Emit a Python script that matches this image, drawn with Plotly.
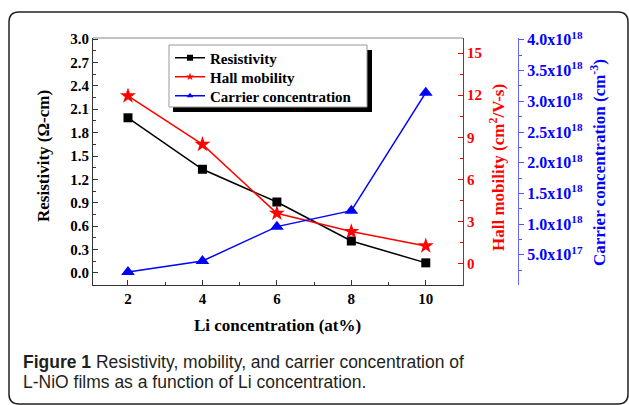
import plotly.graph_objects as go

# ---- data ----
li_conc = [2, 4, 6, 8, 10]
resistivity = [1.99, 1.33, 0.91, 0.41, 0.13]
hall_mobility = [11.95, 8.5, 3.6, 2.3, 1.28]
carrier_conc = [2.2e17, 4.0e17, 9.6e17, 1.22e18, 3.14e18]
carrier_tickvals = [5e17, 1e18, 1.5e18, 2e18, 2.5e18, 3e18, 3.5e18, 4e18]
carrier_ticktext = ["5.0x10<sup>17</sup>", "1.0x10<sup>18</sup>", "1.5x10<sup>18</sup>",
                    "2.0x10<sup>18</sup>", "2.5x10<sup>18</sup>", "3.0x10<sup>18</sup>",
                    "3.5x10<sup>18</sup>", "4.0x10<sup>18</sup>"]
series_names = ["Resistivity", "Hall mobility", "Carrier concentration"]

W, H = 629, 405
L, R_EDGE, T, B = 93, 518, 38, 285
PW, PH = R_EDGE - L, B - T
XEND = (463 - L) / PW


def fx(px):
    return (px - L) / PW


def fy(py):
    return (B - py) / PH


SERIF = "Liberation Serif"
colors = ["black", "#ff0000", "#0000ff"]
symbols = ["square", "star", "triangle-up"]
sizes = [9, 12, 12]
yaxes = ["y", "y2", "y3"]
values = [resistivity, hall_mobility, carrier_conc]
legend_ids = ["legend", "legend2", "legend3"]
legend_rows = [58, 77, 96]

fig = go.Figure()
for name, vals, c, s, sz, ya in zip(series_names, values, colors, symbols, sizes, yaxes):
    fig.add_trace(go.Scatter(x=li_conc, y=vals, name=name, mode="lines+markers",
                             line=dict(color=c, width=1.5), marker=dict(symbol=s, size=sz, color=c),
                             xaxis="x", yaxis=ya, showlegend=False))
# legend entries with small symbols, one legend per row
for name, c, s, lg in zip(series_names, colors, symbols, legend_ids):
    fig.add_trace(go.Scatter(x=[None], y=[None], name=name, mode="lines+markers",
                             line=dict(color=c, width=1.5), marker=dict(symbol=s, size=6, color=c),
                             xaxis="x", yaxis="y", showlegend=True, legend=lg))

tickfont = dict(family=SERIF, size=15, weight="bold")

legend_common = dict(xanchor="left", yanchor="middle", bgcolor="rgba(0,0,0,0)", borderwidth=0,
                     font=dict(family=SERIF, size=15, color="black", weight="bold"),
                     itemwidth=30, tracegroupgap=0)
legend_layout = {lg: dict(x=fx(170), y=fy(row), **legend_common) for lg, row in zip(legend_ids, legend_rows)}

fig.update_layout(
    width=W, height=H,
    margin=dict(l=L, r=W - R_EDGE, t=T, b=H - B),
    paper_bgcolor="white", plot_bgcolor="white",
    showlegend=True,
    **legend_layout,
    xaxis=dict(domain=[0, XEND], range=[1.06, 11.0], tickmode="array", tickvals=[2, 4, 6, 8, 10],
               ticks="inside", ticklen=5, tickcolor="#333", showline=True, linecolor="#333",
               linewidth=1.2, showgrid=False, zeroline=False, tickfont=dict(color="black", **tickfont),
               minor=dict(tickmode="array", tickvals=[3, 5, 7, 9], ticks="inside", ticklen=3, tickcolor="#333"),
               anchor="y"),
    yaxis=dict(range=[-0.154, 3.013], tickmode="linear", tick0=0, dtick=0.3, tickformat=".1f",
               ticks="inside", ticklen=5, tickcolor="#333", showline=True, linecolor="#333",
               linewidth=1.2, showgrid=False, zeroline=False, tickfont=dict(color="black", **tickfont),
               minor=dict(tickmode="linear", tick0=0, dtick=0.15, ticks="inside", ticklen=3, tickcolor="#333"),
               anchor="x"),
    yaxis2=dict(range=[-1.5, 16.07], tickmode="linear", tick0=0, dtick=3, overlaying="y", side="right",
                anchor="x", ticks="inside", ticklen=5, tickcolor="#ff0000", showline=True, linecolor="#ff0000",
                linewidth=1.2, showgrid=False, zeroline=False, tickfont=dict(color="#ff0000", **tickfont),
                minor=dict(tickmode="linear", tick0=0, dtick=1.5, ticks="inside", ticklen=3, tickcolor="#ff0000")),
    yaxis3=dict(range=[0.01e18, 4.03e18], tickmode="array", tickvals=carrier_tickvals, ticktext=carrier_ticktext,
                overlaying="y", side="right", anchor="free", position=1.0,
                ticks="outside", ticklen=5, tickcolor="#5555ff", showline=True, linecolor="#6666ff",
                linewidth=1.2, showgrid=False, zeroline=False,
                tickfont=dict(color="#0000ff", family=SERIF, size=16, weight="bold"),
                minor=dict(tickmode="linear", tick0=0, dtick=2.5e17, ticks="outside", ticklen=3, tickcolor="#5555ff")),
)

# top border of plot
fig.add_shape(type="line", xref="paper", yref="paper", x0=0, x1=XEND, y0=1, y1=1,
              line=dict(color="#888888", width=1.2))

# legend shadow + box
fig.add_shape(type="rect", xref="paper", yref="paper", x0=fx(173), x1=fx(372), y0=fy(50), y1=fy(112),
              fillcolor="black", line=dict(width=0), layer="above")
fig.add_shape(type="rect", xref="paper", yref="paper", x0=fx(169), x1=fx(367), y0=fy(45), y1=fy(107),
              fillcolor="white", line=dict(color="#999999", width=1), layer="above")

# figure frame (rounded rectangle)
x0p, x1p, y0p, y1p, r = 9, 628, 12, 404, 10
path = (f"M {fx(x0p + r)},{fy(y0p)} L {fx(x1p - r)},{fy(y0p)} Q {fx(x1p)},{fy(y0p)} {fx(x1p)},{fy(y0p + r)} "
        f"L {fx(x1p)},{fy(y1p - r)} Q {fx(x1p)},{fy(y1p)} {fx(x1p - r)},{fy(y1p)} "
        f"L {fx(x0p + r)},{fy(y1p)} Q {fx(x0p)},{fy(y1p)} {fx(x0p)},{fy(y1p - r)} "
        f"L {fx(x0p)},{fy(y0p + r)} Q {fx(x0p)},{fy(y0p)} {fx(x0p + r)},{fy(y0p)} Z")
fig.add_shape(type="path", xref="paper", yref="paper", path=path, line=dict(color="#222222", width=1.5))

titlefont = dict(family=SERIF, size=17, weight="bold")


def title_ann(text, px, py, color, angle=0):
    fig.add_annotation(text=text, x=fx(px), y=fy(py), xref="paper", yref="paper",
                       xanchor="center", yanchor="middle", textangle=angle, showarrow=False,
                       font=dict(color=color, **titlefont))


title_ann("Resistivity (Ω-cm)", 43, 156, "black", -90)
title_ann("Hall mobility (cm<sup>2</sup>/V-s)", 497, 168, "#ff0000", -90)
title_ann("Carrier concentration (cm<sup>-3</sup>)", 598, 163, "#0000ff", -90)
title_ann("Li concentration (at%)", 277, 325, "black")

capfont = dict(family="Liberation Sans", size=17.5, color="#231f20")
fig.add_annotation(text="<b>Figure 1</b> Resistivity, mobility, and carrier concentration of",
                   x=fx(21), y=fy(362), xref="paper", yref="paper", xanchor="left", yanchor="middle",
                   showarrow=False, font=capfont)
fig.add_annotation(text="L-NiO films as a function of Li concentration.",
                   x=fx(21), y=fy(382), xref="paper", yref="paper", xanchor="left", yanchor="middle",
                   showarrow=False, font=capfont)

fig.write_html("out.html", config={"displayModeBar": False},
               post_script="document.body.style.margin='0';")
